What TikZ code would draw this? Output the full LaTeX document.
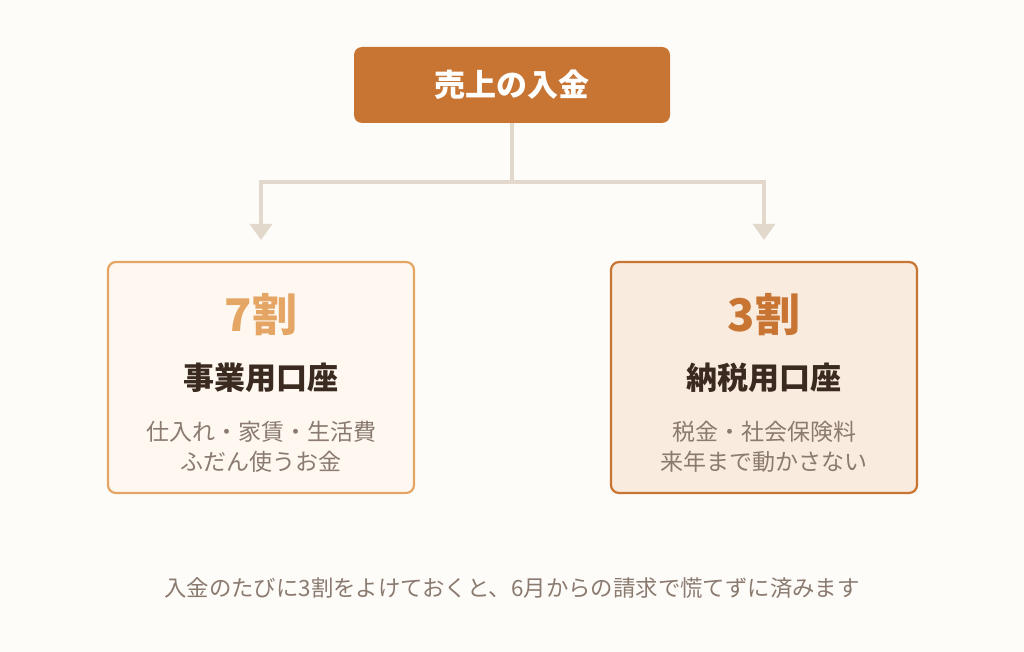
\documentclass[tikz,border=0pt]{standalone}
\usepackage{fontspec}
\setmainfont{Noto Sans CJK JP}
\usetikzlibrary{arrows.meta}
\definecolor{bg}{HTML}{FEFCF8}
\definecolor{brown}{HTML}{C87533}
\definecolor{lorange}{HTML}{E5A665}
\definecolor{line}{HTML}{E2D8CC}
\definecolor{dark}{HTML}{3A2A20}
\definecolor{gray}{HTML}{8A7A70}
\definecolor{lfill}{HTML}{FEF8F1}
\definecolor{rfill}{HTML}{F9EBDD}
\begin{document}
\begin{tikzpicture}[x=1pt,y=-1pt,
  box/.style={rounded corners=8pt,line width=2.2pt},
  conn/.style={line width=3.5pt,draw=line,-{Triangle[length=16pt,width=22pt]}},
  big/.style={font=\fontsize{45}{50}\selectfont\bfseries},
  title/.style={font=\fontsize{31}{34}\selectfont\bfseries,text=dark},
  sub/.style={font=\fontsize{23}{30}\selectfont,text=gray,align=center}]
\fill[bg] (0,0) rectangle (1024,652);
\useasboundingbox (0,0) rectangle (1024,652);
\node[fill=brown,rounded corners=8pt,minimum width=316pt,minimum height=76pt,text=white,font=\fontsize{31}{34}\selectfont\bfseries] (top) at (512,85) {売上の入金};
\draw[box,draw=lorange,fill=lfill] (108,262) rectangle (414,493);
\draw[box,draw=brown,fill=rfill] (611,262) rectangle (917,493);
\coordinate (L) at (261,240);
\coordinate (R) at (764,240);
\coordinate (J) at (512,182);
\draw[line width=3.5pt,draw=line] (top.south) -- (J);
\draw[conn] (J) -| (L);
\draw[conn] (J) -| (R);
\node[big,text=lorange] (a1) at (261,315) {7割};
\node[title] (a2) at (261,378) {事業用口座};
\node[sub] (a3) at (261,447) {仕入れ・家賃・生活費\\ふだん使うお金};
\node[big,text=brown] (b1) at (764,315) {3割};
\node[title] (b2) at (764,378) {納税用口座};
\node[sub] (b3) at (764,447) {税金・社会保険料\\来年まで動かさない};
\node[font=\fontsize{22.4}{26}\selectfont,text=gray] (c) at (512,588) {入金のたびに3割をよけておくと、6月からの請求で慌てずに済みます};
\end{tikzpicture}
\end{document}
